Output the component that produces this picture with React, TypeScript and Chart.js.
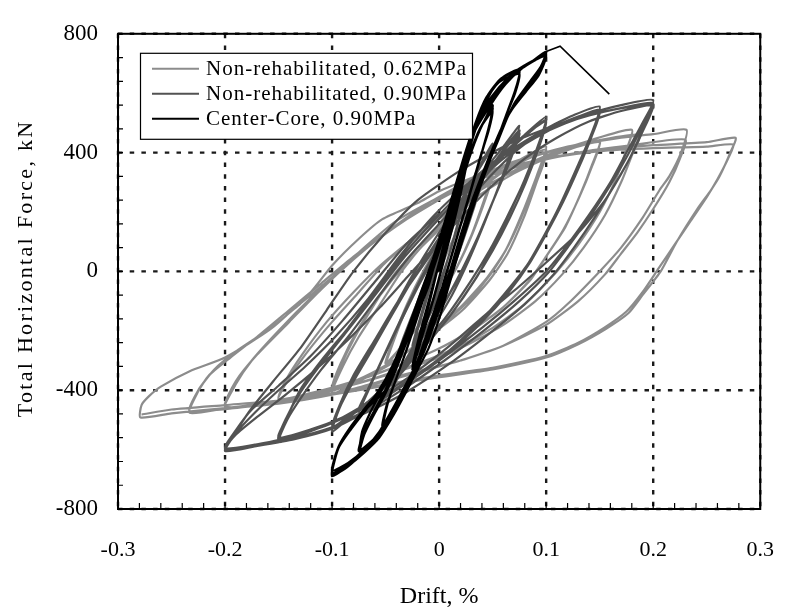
import { useEffect, useRef } from 'react';
import { Chart, registerables } from 'chart.js';

Chart.register(...registerables);

const FONT = "'Liberation Serif', 'Times New Roman', serif";

const xTickValues = [-0.3, -0.2, -0.1, 0, 0.1, 0.2, 0.3];
const yTickValues = [-800, -400, 0, 400, 800];
const xTitle = 'Drift, %';
const yTitle = 'Total Horizontal Force, kN';
const seriesLabels = ['Non-rehabilitated, 0.62MPa', 'Non-rehabilitated, 0.90MPa', 'Center-Core, 0.90MPa'];
const seriesColors = ['#8c8c8c', '#525252', '#000000'];

// Non-rehabilitated, 0.62 MPa  [drift %, force kN]
const nonRehab062: [number, number][] = [
  [0, 0], [0.012, 100], [0.025, 190], [0.038, 270], [0.05, 330],
  [0.042, 240], [0.03, 120], [0.016, 10], [0, -90], [-0.018, -180], [-0.035, -250], [-0.05, -320],
  [-0.042, -230], [-0.03, -120], [-0.016, -10], [0, 80], [0.018, 180], [0.035, 260], [0.05, 320],
  [0.041, 220], [0.028, 100], [0.013, -10], [-0.005, -110], [-0.025, -210], [-0.05, -310],
  [-0.042, -220], [-0.03, -110], [-0.015, 0], [0, 90], [0.02, 190], [0.04, 280], [0.06, 340], [0.08, 385], [0.1, 420],
  [0.092, 330], [0.08, 210], [0.065, 90], [0.05, 0], [0.03, -90], [0, -190], [-0.03, -270], [-0.06, -340], [-0.08, -380], [-0.1, -410],
  [-0.09, -320], [-0.075, -220], [-0.055, -110], [-0.035, 0], [-0.01, 110], [0.02, 220], [0.05, 310], [0.075, 370], [0.1, 410],
  [0.09, 310], [0.077, 190], [0.062, 70], [0.045, -20], [0.02, -120], [-0.01, -210], [-0.04, -300], [-0.07, -360], [-0.1, -400],
  [-0.092, -320], [-0.08, -230], [-0.062, -120], [-0.042, -10], [-0.015, 100], [0.015, 210], [0.045, 300], [0.072, 360], [0.1, 400],
  [0.091, 300], [0.079, 180], [0.064, 60], [0.047, -30], [0.022, -130], [-0.008, -215], [-0.04, -295], [-0.07, -355], [-0.1, -395],
  [-0.092, -310], [-0.075, -190], [-0.055, -80], [-0.03, 30], [0, 140], [0.035, 250], [0.07, 330], [0.11, 395], [0.15, 440],
  [0.143, 360], [0.132, 260], [0.118, 150], [0.1, 50], [0.085, -30], [0.06, -120], [0.03, -200], [0, -260], [-0.04, -320], [-0.08, -370], [-0.12, -410], [-0.15, -430],
  [-0.143, -365], [-0.128, -280], [-0.105, -170], [-0.08, -70], [-0.055, 20], [-0.025, 110], [0.01, 210], [0.05, 300], [0.09, 370], [0.12, 410], [0.15, 435],
  [0.143, 355], [0.131, 250], [0.116, 140], [0.098, 40], [0.082, -40], [0.057, -130], [0.027, -205], [-0.003, -265], [-0.043, -325], [-0.083, -375], [-0.12, -412], [-0.15, -432],
  [-0.142, -370], [-0.125, -280], [-0.1, -170], [-0.075, -70], [-0.05, 30], [-0.02, 120], [0.02, 230], [0.06, 320], [0.1, 390], [0.14, 440], [0.18, 477],
  [0.174, 400], [0.165, 310], [0.15, 200], [0.13, 90], [0.11, 0], [0.08, -110], [0.05, -190], [0.02, -250], [-0.02, -310], [-0.07, -370], [-0.12, -420], [-0.16, -445], [-0.2, -460],
  [-0.19, -380], [-0.175, -300], [-0.15, -200], [-0.12, -90], [-0.09, 10], [-0.06, 100], [-0.02, 200], [0.02, 280], [0.06, 350], [0.1, 400], [0.14, 435], [0.187, 460],
  [0.18, 390], [0.17, 300], [0.155, 190], [0.135, 80], [0.115, -10], [0.09, -100], [0.06, -180], [0.03, -240], [0, -290], [-0.05, -350], [-0.1, -400], [-0.15, -440], [-0.2, -455],
  [-0.19, -370], [-0.17, -280], [-0.14, -170], [-0.11, -60], [-0.08, 40], [-0.05, 130], [-0.01, 230], [0.03, 310], [0.07, 370], [0.12, 420], [0.17, 450], [0.2, 462], [0.231, 477],
  [0.226, 400], [0.215, 320], [0.206, 274], [0.19, 180], [0.17, 80], [0.15, 0], [0.12, -110], [0.1, -170], [0.06, -250], [0.02, -300], [0, -320], [-0.05, -370], [-0.1, -415], [-0.15, -445], [-0.2, -462], [-0.233, -476],
  [-0.226, -410], [-0.215, -350], [-0.195, -290], [-0.17, -220], [-0.14, -130], [-0.11, -40], [-0.08, 50], [-0.05, 130], [-0.01, 220], [0.03, 300], [0.08, 360], [0.13, 400], [0.18, 425], [0.23, 444],
  [0.225, 380], [0.215, 300], [0.2, 210], [0.185, 130], [0.17, 60], [0.155, -10], [0.13, -100], [0.1, -180], [0.06, -250], [0.02, -300], [-0.03, -345], [-0.08, -395], [-0.13, -430], [-0.18, -455], [-0.233, -470],
  [-0.225, -400], [-0.21, -330], [-0.19, -270], [-0.157, -190], [-0.13, -110], [-0.1, -20], [-0.07, 80], [-0.04, 170], [0, 250], [0.05, 330], [0.1, 380], [0.15, 410], [0.2, 425], [0.25, 435], [0.277, 450],
  [0.272, 400], [0.262, 320], [0.254, 274], [0.241, 209], [0.222, 100], [0.207, 0], [0.19, -80], [0.177, -140], [0.156, -193], [0.13, -245], [0.1, -290], [0.05, -330], [0, -356], [-0.05, -385], [-0.1, -415], [-0.15, -440], [-0.2, -460], [-0.25, -478], [-0.279, -492],
  [-0.278, -450], [-0.271, -420], [-0.26, -388], [-0.233, -336], [-0.2, -290], [-0.157, -193], [-0.12, -70], [-0.1, 20], [-0.075, 110], [-0.053, 176], [-0.02, 230], [0, 270], [0.05, 340], [0.1, 380], [0.15, 405], [0.2, 415], [0.25, 420], [0.275, 427],
  [0.27, 380], [0.26, 310], [0.25, 250], [0.235, 170], [0.22, 90], [0.205, 10], [0.19, -70], [0.175, -135], [0.154, -190], [0.13, -240], [0.1, -285], [0.05, -325], [0, -350], [-0.05, -380], [-0.1, -410], [-0.15, -435], [-0.2, -450], [-0.25, -465], [-0.278, -482],
];

// Non-rehabilitated, 0.90 MPa
const nonRehab090: [number, number][] = [
  [0, 0], [0.01, 120], [0.018, 200], [0.025, 270], [0.018, 170], [0.008, 40], [0, -60], [-0.01, -150], [-0.018, -210], [-0.025, -260],
  [-0.017, -160], [-0.008, -50], [0, 40], [0.01, 140], [0.025, 260], [0.017, 150], [0.007, 30], [-0.005, -90], [-0.015, -180], [-0.025, -250],
  [-0.018, -160], [-0.01, -60], [0, 50], [0.015, 180], [0.03, 300], [0.04, 370], [0.05, 430],
  [0.043, 340], [0.033, 220], [0.022, 100], [0.01, -20], [-0.005, -140], [-0.02, -250], [-0.035, -340], [-0.05, -420],
  [-0.043, -330], [-0.033, -220], [-0.02, -100], [-0.006, 30], [0.01, 160], [0.025, 270], [0.04, 360], [0.05, 415],
  [0.042, 320], [0.031, 200], [0.018, 70], [0.004, -50], [-0.012, -170], [-0.03, -290], [-0.05, -405],
  [-0.04, -310], [-0.028, -190], [-0.015, -70], [0, 60], [0.02, 210], [0.04, 330], [0.06, 420], [0.075, 490],
  [0.067, 400], [0.055, 280], [0.042, 160], [0.028, 40], [0.012, -80], [-0.008, -200], [-0.03, -320], [-0.055, -420], [-0.075, -480],
  [-0.066, -400], [-0.052, -290], [-0.036, -170], [-0.018, -40], [0.002, 90], [0.025, 230], [0.05, 360], [0.075, 475],
  [0.066, 380], [0.053, 260], [0.039, 140], [0.024, 20], [0.006, -100], [-0.015, -220], [-0.04, -350], [-0.075, -470],
  [-0.065, -385], [-0.05, -275], [-0.034, -150], [-0.016, -20], [0.004, 110], [0.027, 245], [0.052, 370], [0.075, 465],
  [0.066, 370], [0.052, 250], [0.038, 130], [0.022, 10], [0.004, -110], [-0.018, -230], [-0.043, -360], [-0.075, -465],
  [-0.064, -380], [-0.05, -270], [-0.033, -140], [-0.015, -10], [0.005, 120], [0.03, 260], [0.055, 370], [0.08, 460], [0.1, 520],
  [0.093, 430], [0.08, 310], [0.065, 190], [0.05, 80], [0.035, -20], [0.01, -150], [-0.02, -280], [-0.05, -390], [-0.08, -480], [-0.1, -540],
  [-0.093, -460], [-0.08, -370], [-0.062, -260], [-0.043, -140], [-0.022, -10], [0.003, 130], [0.03, 270], [0.06, 390], [0.085, 470], [0.1, 510],
  [0.092, 420], [0.079, 300], [0.063, 180], [0.047, 70], [0.03, -30], [0.005, -160], [-0.025, -290], [-0.055, -400], [-0.08, -480], [-0.1, -530],
  [-0.094, -460], [-0.082, -370], [-0.065, -270], [-0.046, -150], [-0.026, -20], [-0.002, 120], [0.025, 260], [0.055, 380], [0.08, 460], [0.1, 505],
  [0.093, 415], [0.081, 300], [0.066, 180], [0.05, 70], [0.033, -30], [0.008, -160], [-0.022, -285], [-0.052, -395], [-0.078, -470], [-0.1, -525],
  [-0.093, -450], [-0.08, -350], [-0.06, -230], [-0.04, -110], [-0.015, 20], [0.01, 150], [0.04, 290], [0.07, 400], [0.1, 480], [0.125, 525], [0.15, 555],
  [0.143, 470], [0.13, 360], [0.115, 240], [0.1, 130], [0.085, 30], [0.065, -70], [0.04, -170], [0.01, -270], [-0.02, -350], [-0.06, -440], [-0.1, -510], [-0.13, -550], [-0.15, -575],
  [-0.142, -500], [-0.128, -420], [-0.11, -330], [-0.085, -220], [-0.06, -100], [-0.03, 40], [0, 160], [0.03, 280], [0.06, 380], [0.09, 450], [0.12, 505], [0.15, 545],
  [0.142, 455], [0.129, 345], [0.114, 230], [0.098, 120], [0.082, 20], [0.06, -80], [0.035, -180], [0.005, -280], [-0.03, -370], [-0.07, -460], [-0.11, -525], [-0.15, -565],
  [-0.143, -495], [-0.13, -410], [-0.112, -320], [-0.088, -210], [-0.062, -90], [-0.032, 50], [-0.002, 170], [0.028, 285], [0.058, 385], [0.088, 455], [0.118, 505], [0.15, 540],
  [0.142, 450], [0.13, 345], [0.116, 235], [0.1, 125], [0.084, 25], [0.062, -75], [0.037, -175], [0.007, -275], [-0.028, -365], [-0.068, -455], [-0.11, -520], [-0.15, -560],
  [-0.142, -490], [-0.13, -400], [-0.11, -300], [-0.085, -190], [-0.06, -70], [-0.03, 70], [0, 190], [0.03, 300], [0.06, 390], [0.1, 470], [0.14, 530], [0.17, 560], [0.2, 577],
  [0.19, 500], [0.175, 400], [0.16, 300], [0.14, 190], [0.12, 90], [0.1, 0], [0.07, -100], [0.04, -190], [0, -300], [-0.04, -400], [-0.07, -470], [-0.1, -525], [-0.13, -560], [-0.17, -585], [-0.2, -600],
  [-0.19, -540], [-0.175, -460], [-0.155, -370], [-0.13, -260], [-0.105, -130], [-0.08, 0], [-0.05, 130], [-0.02, 240], [0.02, 340], [0.06, 420], [0.1, 480], [0.14, 525], [0.17, 550], [0.2, 567],
  [0.19, 490], [0.176, 390], [0.16, 290], [0.142, 190], [0.122, 90], [0.103, 0], [0.075, -100], [0.045, -190], [0.005, -300], [-0.035, -400], [-0.07, -475], [-0.1, -530], [-0.135, -565], [-0.17, -588], [-0.2, -605],
  [-0.19, -545], [-0.172, -475], [-0.15, -400], [-0.125, -320], [-0.097, -220], [-0.067, -95], [-0.037, 50], [-0.007, 180], [0.025, 290], [0.055, 380], [0.085, 445], [0.115, 495], [0.145, 530], [0.175, 552], [0.2, 562],
  [0.19, 470], [0.175, 360], [0.155, 240], [0.13, 130], [0.1, 30], [0.075, -50], [0.045, -140], [0.01, -250], [-0.03, -360], [-0.07, -450], [-0.1, -510], [-0.135, -555], [-0.17, -582], [-0.2, -598],
  [-0.19, -550], [-0.17, -490], [-0.145, -420], [-0.115, -330], [-0.085, -230], [-0.055, -120], [-0.03, -20], [-0.01, 60], [0.02, 180], [0.05, 290], [0.08, 380], [0.11, 450], [0.14, 505], [0.17, 540], [0.2, 558],
  [0.19, 475], [0.178, 380], [0.162, 280], [0.145, 180], [0.126, 80], [0.107, -10], [0.08, -110], [0.05, -200], [0.01, -310], [-0.03, -405], [-0.066, -472], [-0.1, -525], [-0.135, -560], [-0.17, -582], [-0.2, -595],
  [-0.19, -535], [-0.175, -465], [-0.15, -385], [-0.12, -285], [-0.09, -165], [-0.06, -35], [-0.03, 95], [0, 195],
];

// Center-Core, 0.90 MPa
const centerCore090: [number, number][] = [
  [0, 0], [0.008, 120], [0.016, 240], [0.025, 360],
  [0.02, 270], [0.012, 150], [0.004, 30], [-0.005, -90], [-0.015, -210], [-0.025, -330],
  [-0.018, -230], [-0.01, -120], [-0.002, 0], [0.007, 130], [0.016, 250], [0.025, 350],
  [0.02, 260], [0.012, 140], [0.003, 20], [-0.006, -100], [-0.016, -220], [-0.025, -320],
  [-0.018, -210], [-0.009, -90], [0, 30], [0.01, 150], [0.019, 270], [0.028, 380], [0.038, 475], [0.05, 560],
  [0.047, 490], [0.04, 400], [0.032, 300], [0.023, 190], [0.014, 80], [0.005, -30], [-0.005, -140], [-0.016, -260], [-0.028, -370], [-0.04, -450], [-0.053, -520],
  [-0.049, -450], [-0.042, -380], [-0.032, -280], [-0.021, -160], [-0.01, -40], [0, 70], [0.01, 180], [0.019, 290], [0.028, 390], [0.038, 480], [0.05, 550],
  [0.046, 480], [0.039, 390], [0.031, 290], [0.022, 180], [0.013, 70], [0.004, -40], [-0.006, -150], [-0.017, -270], [-0.029, -375], [-0.041, -455], [-0.052, -515],
  [-0.048, -445], [-0.041, -370], [-0.031, -270], [-0.02, -150], [-0.009, -30], [0.001, 80], [0.011, 190], [0.02, 300], [0.029, 400], [0.039, 485], [0.05, 540],
  [0.046, 470], [0.038, 380], [0.03, 280], [0.021, 170], [0.012, 60], [0.003, -50], [-0.007, -160], [-0.018, -280], [-0.03, -385], [-0.042, -460], [-0.053, -518],
  [-0.048, -440], [-0.04, -360], [-0.03, -260], [-0.019, -140], [-0.008, -20], [0.002, 90], [0.011, 200], [0.02, 310], [0.029, 420], [0.038, 520], [0.048, 600], [0.06, 655], [0.075, 680],
  [0.072, 620], [0.064, 540], [0.055, 450], [0.045, 350], [0.035, 250], [0.025, 140], [0.015, 30], [0.006, -70], [-0.004, -170], [-0.016, -280], [-0.028, -380], [-0.04, -460], [-0.054, -540], [-0.074, -610],
  [-0.07, -550], [-0.062, -490], [-0.05, -410], [-0.037, -300], [-0.024, -170], [-0.012, -50], [-0.002, 60], [0.008, 170], [0.017, 280], [0.026, 390], [0.035, 500], [0.045, 590], [0.058, 650], [0.075, 672],
  [0.071, 610], [0.063, 530], [0.054, 440], [0.044, 340], [0.034, 240], [0.024, 130], [0.014, 20], [0.005, -80], [-0.005, -180], [-0.017, -290], [-0.029, -390], [-0.042, -470], [-0.057, -550], [-0.075, -605],
  [-0.071, -545], [-0.063, -485], [-0.051, -405], [-0.038, -295], [-0.025, -165], [-0.013, -45], [-0.003, 65], [0.007, 175], [0.016, 285], [0.025, 395], [0.034, 500], [0.044, 585], [0.057, 640], [0.075, 665],
  [0.071, 600], [0.062, 520], [0.053, 430], [0.043, 330], [0.033, 230], [0.023, 120], [0.013, 10], [0.004, -90], [-0.006, -190], [-0.018, -300], [-0.03, -400], [-0.043, -480], [-0.058, -555], [-0.074, -608],
  [-0.072, -540], [-0.065, -480], [-0.055, -410], [-0.043, -320], [-0.03, -200], [-0.017, -70], [-0.006, 40], [0.004, 150], [0.013, 260], [0.022, 370], [0.031, 470], [0.046, 560], [0.06, 630], [0.07, 672], [0.082, 695], [0.1, 740],
  [0.095, 690], [0.085, 640], [0.073, 580], [0.064, 520], [0.055, 440], [0.046, 362], [0.034, 251], [0.025, 143], [0.016, 36], [0.009, -50], [0, -160], [-0.01, -260], [-0.02, -330], [-0.03, -400], [-0.042, -480], [-0.056, -560], [-0.07, -610], [-0.085, -655], [-0.1, -690],
  [-0.097, -620], [-0.092, -580], [-0.085, -540], [-0.07, -470], [-0.05, -400], [-0.036, -290], [-0.022, -160], [-0.01, -50], [-0.003, 40], [0.005, 143], [0.014, 251], [0.023, 362], [0.033, 470], [0.048, 560], [0.062, 630], [0.078, 685], [0.09, 712], [0.1, 733],
  [0.095, 680], [0.084, 630], [0.071, 570], [0.062, 505], [0.053, 430], [0.044, 350], [0.032, 240], [0.022, 130], [0.013, 20], [0.006, -60], [-0.004, -170], [-0.014, -270], [-0.025, -350], [-0.035, -420], [-0.047, -500], [-0.06, -570], [-0.075, -625], [-0.088, -665], [-0.1, -685],
  [-0.096, -610], [-0.088, -555], [-0.074, -485], [-0.058, -410], [-0.044, -320], [-0.03, -200], [-0.017, -75], [-0.006, 40], [0.003, 140], [0.012, 250], [0.021, 360], [0.03, 460], [0.042, 550], [0.056, 620], [0.072, 675], [0.088, 710], [0.1, 728],
  [0.094, 670], [0.083, 620], [0.07, 560], [0.06, 495], [0.051, 420], [0.042, 340], [0.031, 235], [0.021, 125], [0.012, 15], [0.005, -65], [-0.005, -175], [-0.016, -280], [-0.027, -360], [-0.038, -435], [-0.05, -515], [-0.064, -585], [-0.08, -635], [-0.092, -665], [-0.1, -680],
  [-0.094, -595], [-0.083, -535], [-0.067, -460], [-0.05, -380], [-0.037, -275], [-0.024, -145], [-0.012, -30], [-0.002, 80], [0.008, 190], [0.017, 300], [0.026, 410], [0.037, 510], [0.05, 590], [0.066, 655], [0.083, 700], [0.1, 725],
  [0.093, 660], [0.081, 605], [0.068, 545], [0.058, 480], [0.049, 405], [0.04, 325], [0.029, 220], [0.019, 110], [0.01, 0], [0.002, -80], [-0.008, -190], [-0.019, -295], [-0.031, -380], [-0.043, -460], [-0.056, -540], [-0.07, -600], [-0.085, -645], [-0.1, -670],
  [-0.094, -590], [-0.084, -530], [-0.068, -455], [-0.05, -375], [-0.036, -270], [-0.022, -140], [-0.01, -30],
];

// Callout line at the Center-Core peak
const calloutLine: [number, number][] = [[0.1, 740], [0.113, 758], [0.159, 597]];

const toPoints = (arr: [number, number][]) => arr.map(([x, y]) => ({ x, y }));

const framePlugin = {
  id: 'frame',
  beforeDatasetsDraw(chart: any) {
    const { ctx, chartArea: a, scales } = chart;
    const xs = scales.x;
    const ys = scales.y;
    ctx.save();
    ctx.strokeStyle = '#1a1a1a';
    ctx.lineWidth = 2.4;
    ctx.setLineDash([4.5, 7.2]);
    ctx.beginPath();
    for (const v of xTickValues) {
      const p = xs.getPixelForValue(v);
      ctx.moveTo(p, a.top);
      ctx.lineTo(p, a.bottom);
    }
    for (const v of yTickValues) {
      const p = ys.getPixelForValue(v);
      ctx.moveTo(a.left, p);
      ctx.lineTo(a.right, p);
    }
    ctx.stroke();
    ctx.restore();
  },
  afterDatasetsDraw(chart: any) {
    const { ctx, chartArea: a, scales } = chart;
    const xs = scales.x;
    const ys = scales.y;
    ctx.save();
    ctx.setLineDash([]);
    ctx.strokeStyle = '#000';
    ctx.lineWidth = 2;
    ctx.strokeRect(a.left, a.top, a.right - a.left, a.bottom - a.top);
    ctx.lineWidth = 1.2;
    ctx.beginPath();
    for (let i = 0; i <= 30; i++) {
      const p = xs.getPixelForValue(-0.3 + i * 0.02);
      ctx.moveTo(p, a.bottom);
      ctx.lineTo(p, a.bottom - 6);
    }
    for (let i = 0; i <= 20; i++) {
      const p = ys.getPixelForValue(-800 + i * 80);
      ctx.moveTo(a.left, p);
      ctx.lineTo(a.left + 5, p);
    }
    ctx.stroke();

    // legend
    const lx = a.left + 22;
    const ly = a.top + 19;
    const lw = 332;
    const lh = 86;
    ctx.fillStyle = '#fff';
    ctx.fillRect(lx, ly, lw, lh);
    ctx.strokeStyle = '#000';
    ctx.lineWidth = 1.2;
    ctx.strokeRect(lx + 0.5, ly + 0.5, lw, lh);
    ctx.font = `21px ${FONT}`;
    (ctx as any).letterSpacing = '1px';
    ctx.textBaseline = 'middle';
    ctx.textAlign = 'left';
    seriesLabels.forEach((label, i) => {
      const yy = ly + 16 + i * 25;
      ctx.strokeStyle = seriesColors[i];
      ctx.lineWidth = 2;
      ctx.beginPath();
      ctx.moveTo(lx + 12, yy);
      ctx.lineTo(lx + 59, yy);
      ctx.stroke();
      ctx.fillStyle = '#000';
      ctx.fillText(label, lx + 66, yy + 1);
    });

    // axis titles
    (ctx as any).letterSpacing = '0px';
    ctx.font = `24px ${FONT}`;
    ctx.textAlign = 'center';
    ctx.textBaseline = 'alphabetic';
    ctx.fillStyle = '#000';
    ctx.fillText(xTitle, (a.left + a.right) / 2, 603);

    ctx.translate(26, (a.top + a.bottom) / 2 - 3);
    ctx.rotate(-Math.PI / 2);
    ctx.font = `22px ${FONT}`;
    (ctx as any).letterSpacing = '2.3px';
    ctx.textBaseline = 'middle';
    ctx.fillText(yTitle, 0, 0);
    ctx.restore();
  },
};

export default function App() {
  const ref = useRef<HTMLCanvasElement>(null);
  useEffect(() => {
    document.body.style.margin = '0';
    const canvas = ref.current;
    if (!canvas) return;
    let chart: Chart | null = null;
    let cancelled = false;
    const line = (label: string, pts: [number, number][], color: string, width: number, order: number) => ({
      label,
      data: toPoints(pts),
      borderColor: color,
      backgroundColor: color,
      borderWidth: width,
      showLine: true,
      pointRadius: 0,
      pointHoverRadius: 0,
      tension: 0.2,
      fill: false,
      order,
    });
    const build = () => {
      if (cancelled) return;
      chart = new Chart(canvas, {
        type: 'scatter',
        data: {
          datasets: [
            line(seriesLabels[0], nonRehab062, seriesColors[0], 2.2, 3),
            line(seriesLabels[1], nonRehab090, seriesColors[1], 2.2, 2),
            line(seriesLabels[2], centerCore090, seriesColors[2], 2.2, 1),
            { ...line('callout', calloutLine, '#000', 1.6, 0), tension: 0 },
          ],
        },
        options: {
          responsive: false,
          animation: false,
          events: [],
          layout: { padding: { top: 18, right: 16, left: 0, bottom: 0 } },
          plugins: { legend: { display: false }, tooltip: { enabled: false } },
          scales: {
            x: {
              type: 'linear',
              min: -0.3,
              max: 0.3,
              grid: { display: false, drawTicks: false },
              border: { display: false },
              afterBuildTicks: (s: any) => { s.ticks = xTickValues.map((v) => ({ value: v })); },
              afterFit: (s: any) => { s.height = 98; },
              ticks: {
                font: { family: FONT, size: 22 },
                color: '#000',
                padding: 28,
                maxRotation: 0,
                autoSkip: false,
                callback: (v: any) => String(Math.round(Number(v) * 10) / 10),
              },
            },
            y: {
              type: 'linear',
              min: -800,
              max: 800,
              grid: { display: false, drawTicks: false },
              border: { display: false },
              afterBuildTicks: (s: any) => { s.ticks = yTickValues.map((v) => ({ value: v })); },
              afterFit: (s: any) => { s.width = 118; },
              ticks: {
                font: { family: FONT, size: 23 },
                color: '#000',
                padding: 20,
                autoSkip: false,
                callback: (v: any) => String(v),
              },
            },
          },
        },
        plugins: [framePlugin],
      } as any);
    };
    const fontsApi = (document as any).fonts;
    if (fontsApi && fontsApi.load) {
      Promise.all([
        fontsApi.load('22px "Liberation Serif"'),
        fontsApi.load('24px "Liberation Serif"'),
      ]).then(build, build);
    } else {
      build();
    }
    return () => {
      cancelled = true;
      if (chart) chart.destroy();
    };
  }, []);
  return (
    <div style={{ width: 802, height: 607 }}>
      <canvas ref={ref} width={802} height={607} style={{ display: 'block' }} />
    </div>
  );
}
